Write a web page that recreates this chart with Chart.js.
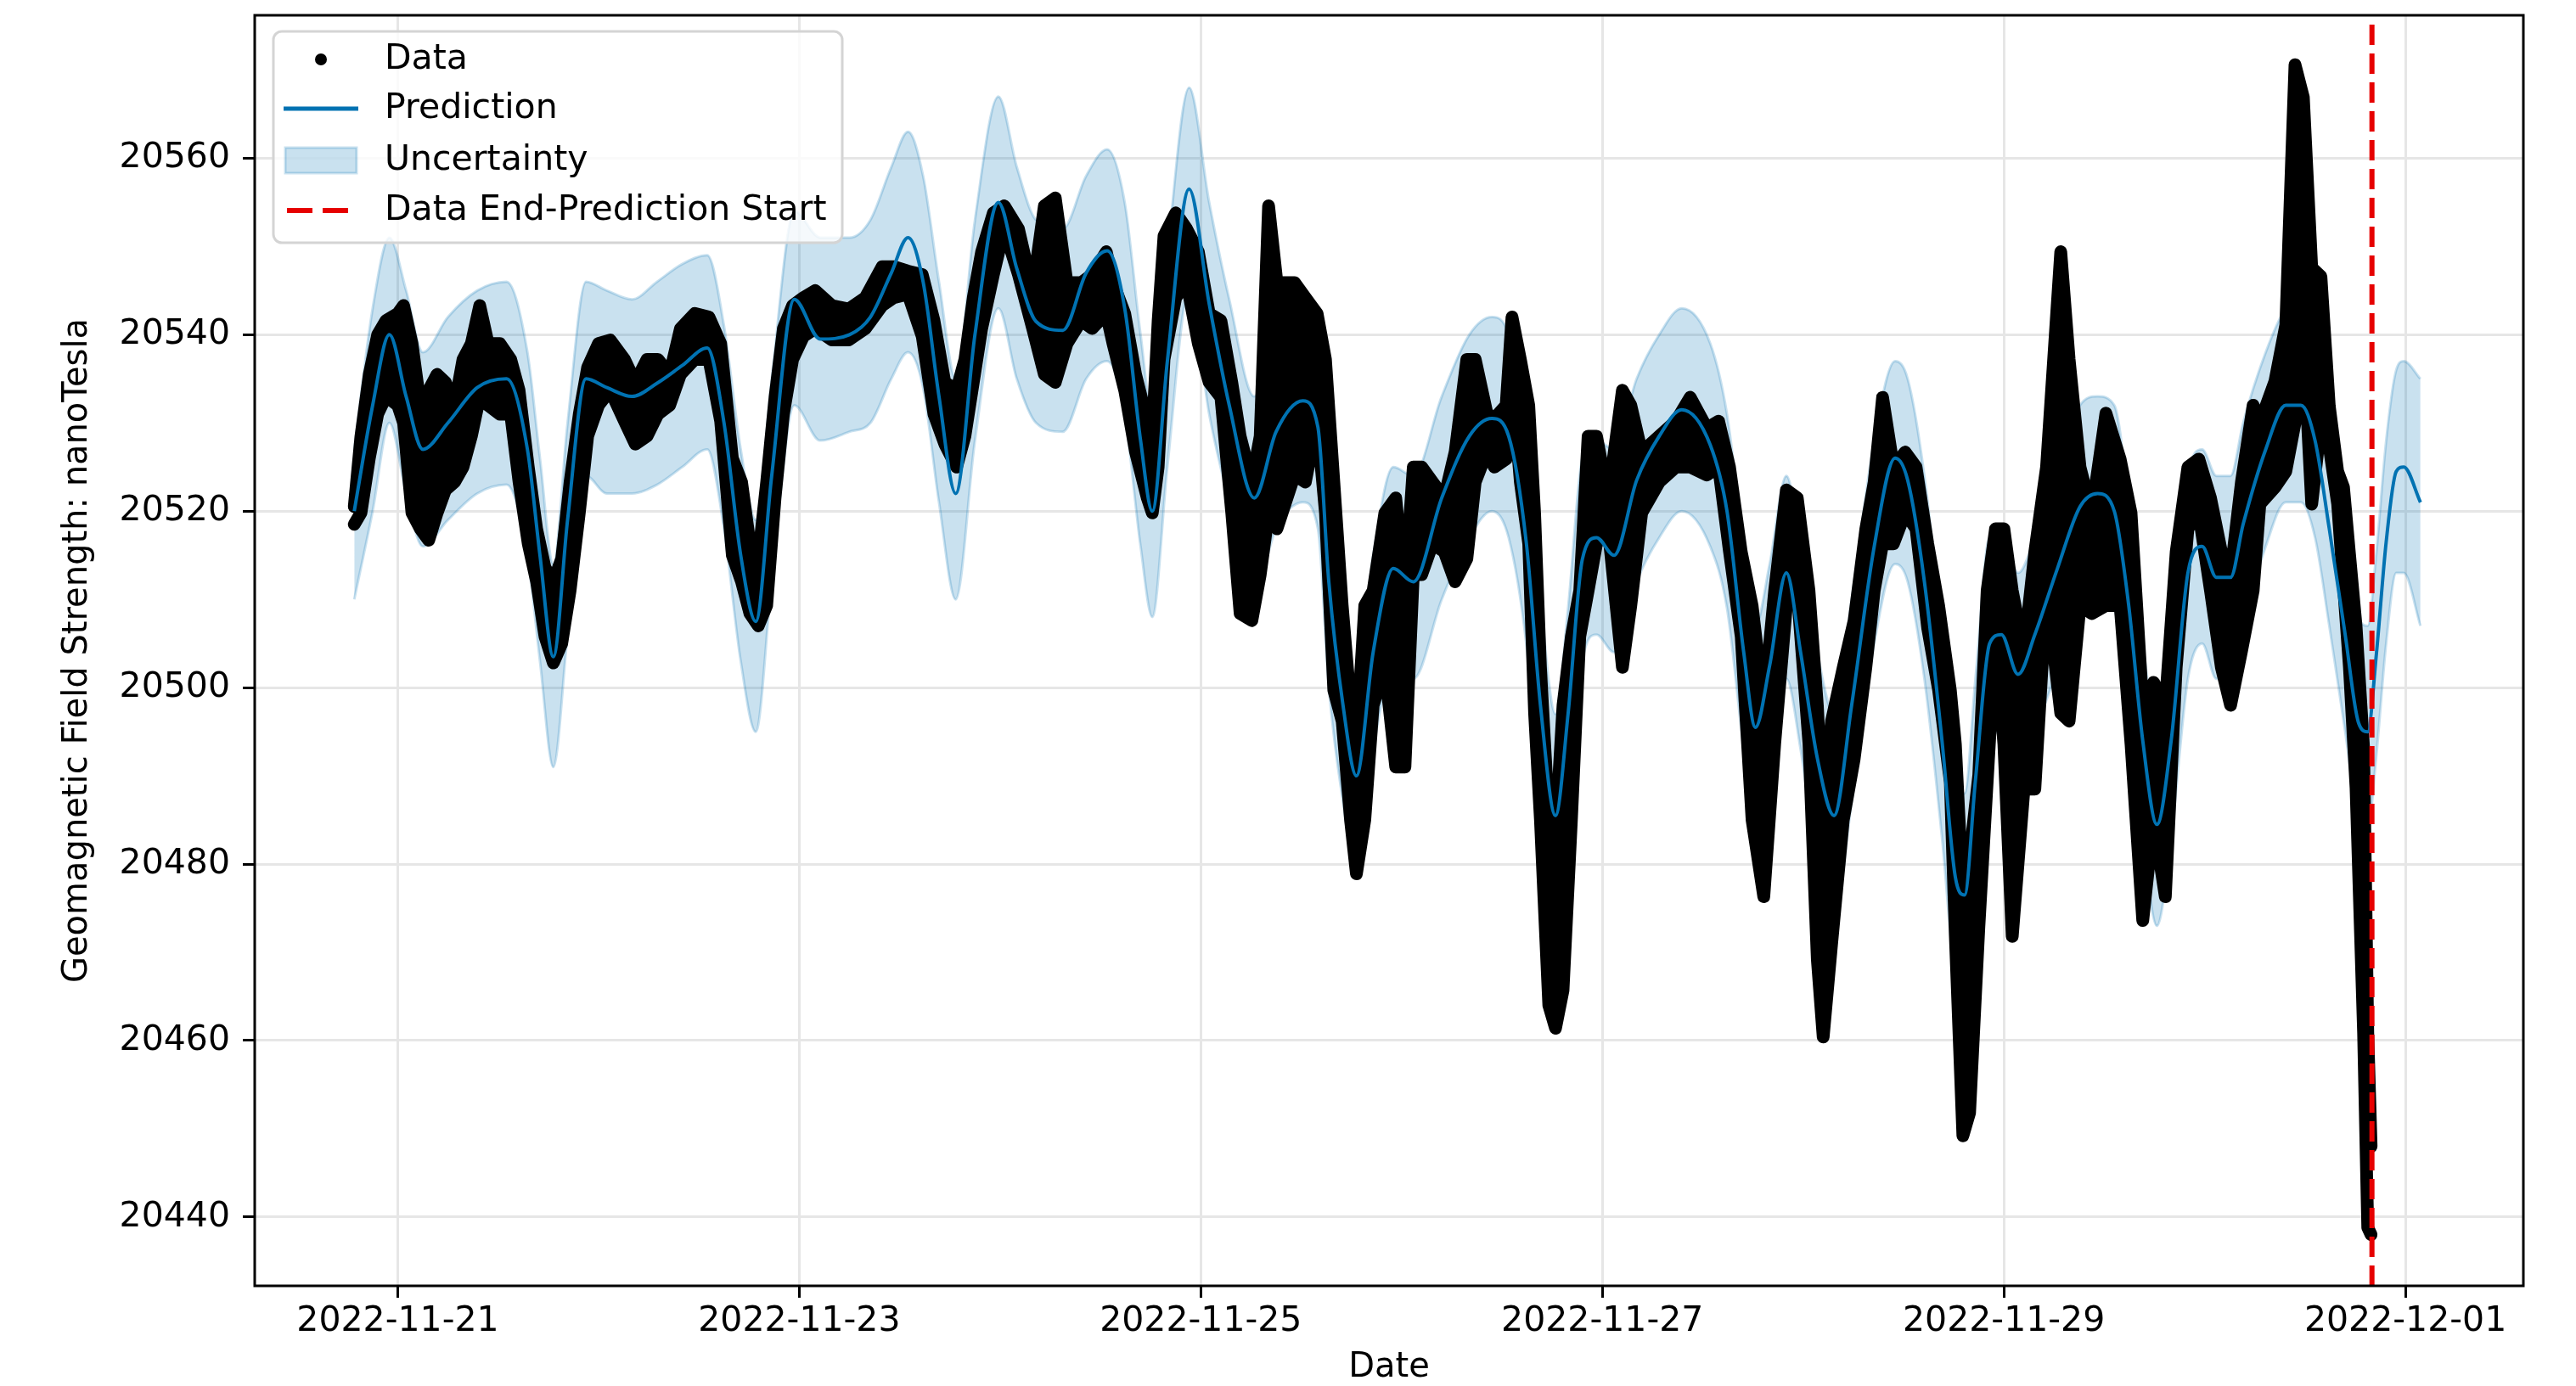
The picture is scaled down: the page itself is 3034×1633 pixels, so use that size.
<!DOCTYPE html>
<html>
<head>
<meta charset="utf-8">
<title>Geomagnetic Field Strength forecast</title>
<script src="https://cdn.jsdelivr.net/npm/chart.js@4.4.1/dist/chart.umd.min.js"></script>
<style>
  html, body { margin: 0; padding: 0; background: #fff; }
  #wrap { width: 3034px; height: 1633px; }
</style>
</head>
<body>
<div id="wrap"><canvas id="chart" width="3034" height="1633"></canvas></div>
<script>
// ===== DATA (x = hours since 2022-11-20 00:00) =====
// observed data, read as a band: lowest / highest dot at each time
const dataHours = [
  18.8, 19.6, 20.6, 21.6, 22.6, 24, 24.7, 25.7, 26.7, 27.7, 28.7, 29.7, 30.8, 31.8, 32.8, 33.8, 34.8, 36.2, 37.5, 38.5,
  39.6, 40.6, 41.6, 42.6, 43.6, 44.6, 45.7, 46.7, 48, 49.4, 51.1, 52.4, 53.8, 55.1, 56.5, 57.8, 59.5, 61.2, 62.6, 64,
  65.1, 66.1, 67.1, 68.1, 69.1, 70.1, 71.2, 72.5, 73.9, 75.9, 77.9, 79.9, 81.9, 83.3, 85, 86.7, 88.1, 89.4, 90.8, 91.8,
  92.8, 93.8, 95.2, 96.5, 98.2, 99.9, 101.3, 102.6, 104, 105.7, 107, 108.7, 109.5, 110.9, 112.2, 113.6, 114.2, 114.9, 115.6, 117,
  118.3, 119.7, 121, 122.4, 123.7, 124.7, 126.1, 127.1, 128.1, 129.1, 131.2, 132.5, 133.9, 134.9, 135.9, 136.9, 137.9, 138.6, 139.6, 140.6,
  142, 143.3, 144.4, 145.4, 146.4, 147.7, 149.1, 150.4, 151.8, 152.8, 154.2, 155.1, 156.5, 157.2, 158.2, 159.2, 159.9, 160.6, 161.6, 162.4,
  163.3, 164.3, 165.3, 166.3, 167.3, 168.7, 170.4, 171.4, 172.7, 174.8, 176.8, 178.5, 180.5, 181.9, 183.2, 184.6, 185.9, 187.3, 188.6, 190,
  191.3, 192.7, 193.7, 194.4, 195.4, 196.8, 198.1, 199.5, 200.5, 201.5, 202.8, 204.2, 205.5, 206.9, 208.2, 209.6, 210.2, 211.1, 211.9, 213,
  214, 215, 216, 217, 218.4, 219.7, 221.1, 222.8, 223.8, 225.1, 226.5, 228.2, 229.9, 231.2, 232.6, 233.9, 235.3, 236.6, 238, 239.3,
  240.7, 242, 243.1, 244.4, 245.8, 246.6, 248.4, 249.7, 250.8, 251.8, 252.8, 253.9, 254.9, 255.9, 256.6, 257.3, 258.1, 259, 259.5, 259.9
];
const dataLow = [
  20518.5, 20519.8, 20526, 20531, 20533, 20532, 20530, 20519.8, 20518, 20516.7, 20519.8, 20522.4, 20523.3, 20525, 20528.5, 20533, 20532, 20531, 20531, 20523.3,
  20516.3, 20512, 20505.8, 20502.8, 20505, 20511, 20519.8, 20528.5, 20532, 20533.7, 20530.2, 20527.6, 20528.5, 20531, 20532, 20535.5, 20537.2, 20537.2, 20530.2, 20515,
  20512, 20508.4, 20507, 20509.3, 20521.5, 20531, 20537.2, 20539.8, 20540.7, 20539.4, 20539.4, 20540.7, 20543.3, 20544.2, 20544.6, 20539.8, 20531, 20527.6, 20525, 20528.5,
  20534.6, 20540.7, 20546.8, 20552, 20546.8, 20540.7, 20535.5, 20534.6, 20539, 20541.6, 20540.7, 20542.4, 20539, 20533.7, 20526.7, 20521.5, 20519.8, 20525, 20537.2, 20544.2,
  20546, 20539, 20534.6, 20532.9, 20519.8, 20508.4, 20507.6, 20512.8, 20519.8, 20518, 20524.1, 20523.3, 20530.2, 20519.8, 20499.7, 20496.2, 20485, 20478.9, 20485, 20498,
  20502.3, 20491, 20491, 20512.8, 20512.8, 20516.3, 20515.4, 20512, 20514.6, 20523.3, 20526.7, 20525, 20525.9, 20534.6, 20523.3, 20516.3, 20497.1, 20485, 20464, 20461.4,
  20465.7, 20485, 20505.8, 20511, 20516.3, 20518, 20502.3, 20509.3, 20519.8, 20523.3, 20525, 20525, 20524.1, 20525, 20515.4, 20505.8, 20485, 20476.3, 20493.6, 20509.3,
  20511, 20493.6, 20469.2, 20460.4, 20470.9, 20485, 20491.9, 20502.3, 20511, 20516.3, 20516.3, 20519.8, 20518, 20506.7, 20499.7, 20489.3, 20471.8, 20449.2, 20451.8, 20472.7,
  20489.3, 20505.8, 20493.6, 20471.8, 20488.5, 20488.5, 20511, 20497.1, 20496.2, 20509.3, 20508.4, 20509.3, 20509.3, 20493.6, 20473.6, 20485, 20476.3, 20502.3, 20518, 20519.8,
  20511, 20502.3, 20498, 20504.1, 20511, 20520.8, 20522.7, 20524.5, 20530, 20539.3, 20520.8, 20530, 20527.3, 20520.8, 20511.6, 20502.4, 20488.6, 20460.9, 20438.8, 20438
];
const dataHigh = [
  20520.5, 20528.5, 20535.5, 20540, 20541.6, 20542.4, 20543.3, 20539, 20532, 20533.7, 20535.5, 20534.6, 20532, 20537.2, 20539, 20543.3, 20539, 20539, 20537.2, 20533.7,
  20525, 20518, 20513.6, 20512, 20514.6, 20523.3, 20531, 20536.3, 20539, 20539.4, 20537.2, 20534.6, 20537.2, 20537.2, 20535.5, 20540.7, 20542.4, 20542, 20539, 20526,
  20523.3, 20516.3, 20514.6, 20523.3, 20532.9, 20540.7, 20543.3, 20544.2, 20545, 20543.3, 20542.9, 20544.2, 20547.7, 20547.7, 20547.2, 20546.8, 20541.6, 20534.6, 20533.7, 20537.2,
  20544.2, 20549.4, 20553.8, 20554.6, 20552, 20545, 20554.6, 20555.5, 20545.9, 20545.9, 20546.8, 20549.4, 20545.9, 20542.4, 20535.5, 20530.2, 20528.5, 20541.6, 20551.2, 20553.8,
  20552, 20549.4, 20542.4, 20541.6, 20534.6, 20528.5, 20523.3, 20528.5, 20554.6, 20545.9, 20545.9, 20544.2, 20542.4, 20537.2, 20523.3, 20509.3, 20498, 20493.6, 20509.3, 20511,
  20519.8, 20521.5, 20511, 20525, 20525, 20523.3, 20521.5, 20526.7, 20537.2, 20537.2, 20531.1, 20530.5, 20532, 20542, 20537.2, 20532, 20519.8, 20502.3, 20485, 20483.3,
  20498, 20505.8, 20511, 20528.5, 20528.5, 20521.5, 20533.7, 20532, 20526.7, 20528.5, 20530.2, 20532.9, 20529.4, 20530.2, 20525, 20515.4, 20509.3, 20498, 20511, 20522.4,
  20521.5, 20511, 20498, 20485, 20496.2, 20502.3, 20507.6, 20518, 20523.3, 20532.9, 20525, 20526.7, 20525, 20516.3, 20509.3, 20499.7, 20493.6, 20476.3, 20480.7, 20490.1,
  20511, 20518, 20518, 20511, 20504.1, 20515.4, 20525, 20549.4, 20537.2, 20525, 20519.8, 20531.1, 20525.9, 20519.8, 20498, 20500.6, 20498, 20515.4, 20525, 20525.9,
  20521.5, 20515.4, 20512.8, 20523.3, 20532, 20530, 20534.7, 20541.1, 20570.6, 20566.9, 20547.6, 20546.6, 20531.9, 20524.5, 20522.7, 20515.3, 20507, 20493.2, 20460.9, 20448
];

// model forecast: yhat with its uncertainty interval
const fcHours = [
  18.8, 21, 23, 25, 27, 30, 33.5, 37, 39.5, 41, 42.6, 44.3, 46.5, 49, 52, 55, 58, 61, 63, 65,
  66.8, 68.7, 71.4, 74.5, 78, 80.5, 83, 85, 86.8, 88.7, 90.7, 93, 95.8, 98, 100.3, 103.5, 106.3, 108.8, 110.9, 112.8,
  114.2, 116, 118.6, 121, 123.4, 126.4, 129, 132.2, 134, 135.3, 137, 138.6, 140.6, 143, 145.4, 148.8, 152.1, 154.8, 156.8, 158.9,
  160.6, 162.4, 163.9, 165.6, 167.3, 169.4, 172.1, 174.8, 177.5, 180.9, 182.9, 184.9, 186.3, 188, 190, 191.7, 193.7, 195.7, 197.8, 200.5,
  203, 204.5, 206.5, 208.6, 210.2, 211.3, 212.6, 214.3, 215.7, 217.7, 219.7, 222.4, 225.1, 227.2, 229.2, 230.9, 232.6, 234.3, 236, 238,
  239.7, 241.4, 243.1, 244.6, 247.3, 249.7, 251.5, 253.2, 254.9, 256.8, 258.4, 259.5, 260.5, 261.7, 262.9, 263.8, 265.8
];
const fcYhat = [
  20520, 20532, 20540, 20533, 20527, 20530, 20534, 20535, 20527, 20515, 20503.5, 20519, 20535, 20534, 20533, 20534.5, 20536.5, 20538.5, 20530, 20515,
  20507.5, 20524, 20544, 20539.5, 20540, 20542, 20547, 20551, 20546, 20533, 20522, 20540, 20555, 20547.5, 20541.5, 20540.5, 20547, 20549.5, 20543, 20528,
  20520, 20537, 20556.5, 20543.5, 20532, 20521.5, 20529, 20532.5, 20529.5, 20512, 20498, 20490, 20504, 20513.5, 20512, 20521.5, 20528.5, 20530.5, 20528.5, 20516.5,
  20498, 20485.5, 20497, 20514.5, 20517, 20515, 20523.5, 20528.5, 20531.5, 20527.5, 20520, 20504, 20495.5, 20502.5, 20513, 20504, 20492, 20485.5, 20498, 20516,
  20526, 20523.5, 20512, 20494, 20478.5, 20476.5, 20489.5, 20505, 20506, 20501.5, 20506, 20513.5, 20520.5, 20522, 20520, 20509.5, 20494, 20484.5, 20494, 20513,
  20516, 20512.5, 20512.5, 20518.5, 20527, 20532, 20532, 20528, 20518, 20506, 20496, 20495, 20503.5, 20516.5, 20524.5, 20525, 20521
];
const fcLower = [
  20510, 20520, 20530, 20522, 20516, 20519, 20522, 20523, 20515, 20503, 20491, 20506, 20524, 20522, 20522, 20523, 20525, 20527, 20518, 20503,
  20495, 20512, 20532, 20528, 20529, 20530, 20535, 20538, 20534, 20521, 20510, 20528, 20543, 20535, 20530, 20529, 20535, 20537, 20531, 20516,
  20508, 20525, 20545, 20531, 20521, 20511, 20518, 20521, 20518, 20500, 20487, 20479, 20493, 20502, 20501, 20510, 20517, 20520, 20517, 20505,
  20487, 20474, 20486, 20503, 20506, 20504, 20512, 20517, 20520, 20516, 20509, 20493, 20484, 20491, 20501, 20493, 20480, 20474, 20487, 20505,
  20514, 20512, 20501, 20483, 20467, 20465, 20478, 20494, 20495, 20490, 20495, 20502, 20509, 20511, 20509, 20498, 20483, 20473, 20483, 20501,
  20505, 20501, 20501, 20507, 20516, 20521, 20521, 20517, 20507, 20495, 20485, 20484, 20492, 20505, 20513, 20513, 20507
];
const fcUpper = [
  20527, 20543, 20551, 20545, 20538, 20542, 20545, 20546, 20538, 20526, 20514, 20530, 20546, 20545, 20544, 20546, 20548, 20549, 20541, 20527,
  20519, 20535, 20554, 20551, 20551, 20553, 20559, 20563, 20558, 20546, 20535, 20553, 20567, 20559, 20553, 20552, 20558, 20561, 20555, 20540,
  20531, 20549, 20568, 20555, 20544, 20533, 20540, 20544, 20541, 20524, 20509, 20501, 20515, 20525, 20524, 20533, 20540, 20542, 20540, 20528,
  20510, 20497, 20509, 20526, 20528, 20527, 20535, 20540, 20543, 20539, 20531, 20516, 20507, 20514, 20524, 20516, 20504, 20497, 20510, 20528,
  20537, 20535, 20524, 20506, 20490, 20488, 20501, 20517, 20517, 20513, 20517, 20525, 20532, 20533, 20532, 20521, 20505, 20496, 20505, 20524,
  20527, 20524, 20524, 20530, 20538, 20543, 20544, 20540, 20530, 20518, 20508, 20507, 20515, 20528, 20536, 20537, 20535
];

const dataEndHour = 260;

// ===== AXES =====
const xTickHours = [24, 72, 120, 168, 216, 264];
const xTickLabels = ["2022-11-21", "2022-11-23", "2022-11-25", "2022-11-27", "2022-11-29", "2022-12-01"];
const yTicks = [20440, 20460, 20480, 20500, 20520, 20540, 20560];
const xMin = 6.9, xMax = 278.1;
const yMin = 20432.2, yMax = 20576.2;

const FONT = "DejaVu Sans";
const BLUE = "#0072B2";
const BAND = "rgba(0, 114, 178, 0.21)";
const RED = "#e60000";

const pts = (xs, ys) => xs.map((x, i) => ({ x: x, y: ys[i] }));

// ===== FRAME (all four spines) =====
const frame = {
  id: "frame",
  afterDatasetsDraw(chart) {
    const { ctx, chartArea: a } = chart;
    ctx.save();
    ctx.strokeStyle = "#000";
    ctx.lineWidth = 3;
    ctx.strokeRect(a.left, a.top, a.right - a.left, a.bottom - a.top);
    ctx.restore();
  },
};

// ===== LEGEND (boxed, inside upper left) =====
const boxLegend = {
  id: "boxLegend",
  afterDraw(chart) {
    const { ctx, chartArea: a } = chart;
    const x = a.left + 22, y = a.top + 19, w = 670, h = 249;
    ctx.save();
    ctx.beginPath();
    ctx.roundRect(x, y, w, h, 10);
    ctx.fillStyle = "rgba(255,255,255,0.8)";
    ctx.fill();
    ctx.strokeStyle = "#d4d4d4";
    ctx.lineWidth = 3;
    ctx.stroke();

    const rows = [y + 33, y + 91, y + 152, y + 211];
    const hx0 = x + 12, hx1 = x + 100, tx = x + 131;

    // Data
    ctx.fillStyle = "#000";
    ctx.beginPath();
    ctx.arc((hx0 + hx1) / 2, rows[0], 7, 0, Math.PI * 2);
    ctx.fill();
    // Prediction
    ctx.strokeStyle = BLUE;
    ctx.lineWidth = 5;
    ctx.beginPath();
    ctx.moveTo(hx0, rows[1]);
    ctx.lineTo(hx1, rows[1]);
    ctx.stroke();
    // Uncertainty
    ctx.fillStyle = BAND;
    ctx.fillRect(hx0 + 2, rows[2] - 15, hx1 - hx0 - 4, 30);
    ctx.strokeStyle = BAND;
    ctx.lineWidth = 3;
    ctx.strokeRect(hx0 + 2, rows[2] - 15, hx1 - hx0 - 4, 30);
    // Data End-Prediction Start
    ctx.strokeStyle = RED;
    ctx.lineWidth = 6;
    ctx.setLineDash([30, 12]);
    ctx.beginPath();
    ctx.moveTo(hx0 + 4, rows[3]);
    ctx.lineTo(hx1, rows[3]);
    ctx.stroke();
    ctx.setLineDash([]);

    ctx.fillStyle = "#000";
    ctx.font = "41px '" + FONT + "'";
    ctx.textBaseline = "middle";
    ctx.textAlign = "left";
    ["Data", "Prediction", "Uncertainty", "Data End-Prediction Start"].forEach((t, i) => {
      ctx.fillText(t, tx, rows[i]);
    });
    ctx.restore();
  },
};

new Chart(document.getElementById("chart"), {
  type: "line",
  data: {
    datasets: [
      {
        label: "Data End-Prediction Start",
        data: [{ x: dataEndHour, y: yMin }, { x: dataEndHour, y: yMax }],
        borderColor: RED,
        borderWidth: 6,
        borderDash: [24, 10],
        pointRadius: 0,
        order: 0,
      },
      {
        label: "Uncertainty lower",
        data: pts(fcHours, fcLower),
        borderColor: BAND,
        borderWidth: 3,
        pointRadius: 0,
        cubicInterpolationMode: "monotone",
        fill: false,
        order: 5,
      },
      {
        label: "Uncertainty",
        data: pts(fcHours, fcUpper),
        borderColor: BAND,
        borderWidth: 3,
        backgroundColor: BAND,
        pointRadius: 0,
        cubicInterpolationMode: "monotone",
        fill: "-1",
        order: 4,
      },
      {
        label: "Prediction",
        data: pts(fcHours, fcYhat),
        borderColor: BLUE,
        borderWidth: 4,
        pointRadius: 0,
        cubicInterpolationMode: "monotone",
        order: 1,
      },
      {
        label: "Data low",
        data: pts(dataHours, dataLow),
        borderColor: "#000",
        borderWidth: 15,
        borderJoinStyle: "round",
        borderCapStyle: "round",
        pointRadius: 0,
        fill: false,
        order: 3,
      },
      {
        label: "Data",
        data: pts(dataHours, dataHigh),
        borderColor: "#000",
        borderWidth: 15,
        borderJoinStyle: "round",
        borderCapStyle: "round",
        backgroundColor: "#000",
        pointRadius: 0,
        fill: "-1",
        order: 2,
      },
    ],
  },
  options: {
    responsive: false,
    animation: false,
    layout: { padding: { top: 18, right: 62, bottom: 0, left: 0 } },
    plugins: { legend: { display: false }, tooltip: { enabled: false } },
    scales: {
      x: {
        type: "linear",
        min: xMin,
        max: xMax,
        afterFit: (s) => { s.height = 118; s.paddingLeft = 0; s.paddingRight = 0; },
        afterBuildTicks: (s) => { s.ticks = xTickHours.map((v) => ({ value: v })); },
        grid: { color: "#e6e6e6", lineWidth: 3, tickColor: "#000", tickLength: 14, tickWidth: 3 },
        border: { display: false },
        ticks: {
          autoSkip: false,
          maxRotation: 0,
          padding: 4,
          color: "#000",
          font: { family: FONT, size: 41 },
          callback: (v, i) => xTickLabels[i],
        },
        title: {
          display: true,
          text: "Date",
          color: "#000",
          font: { family: FONT, size: 40, lineHeight: 1 },
          padding: { top: 0, bottom: 1 },
        },
      },
      y: {
        min: yMin,
        max: yMax,
        afterFit: (s) => { s.width = 300; s.paddingTop = 0; s.paddingBottom = 0; },
        afterBuildTicks: (s) => { s.ticks = yTicks.map((v) => ({ value: v })); },
        grid: { color: "#e6e6e6", lineWidth: 3, tickColor: "#000", tickLength: 14, tickWidth: 3 },
        border: { display: false },
        ticks: {
          padding: 15,
          color: "#000",
          font: { family: FONT, size: 41 },
          callback: (v) => String(v),
        },
        title: {
          display: true,
          text: "Geomagnetic Field Strength: nanoTesla",
          color: "#000",
          font: { family: FONT, size: 40, lineHeight: 1 },
          padding: { top: 72, bottom: 0 },
        },
      },
    },
  },
  plugins: [frame, boxLegend],
});
</script>
</body>
</html>
